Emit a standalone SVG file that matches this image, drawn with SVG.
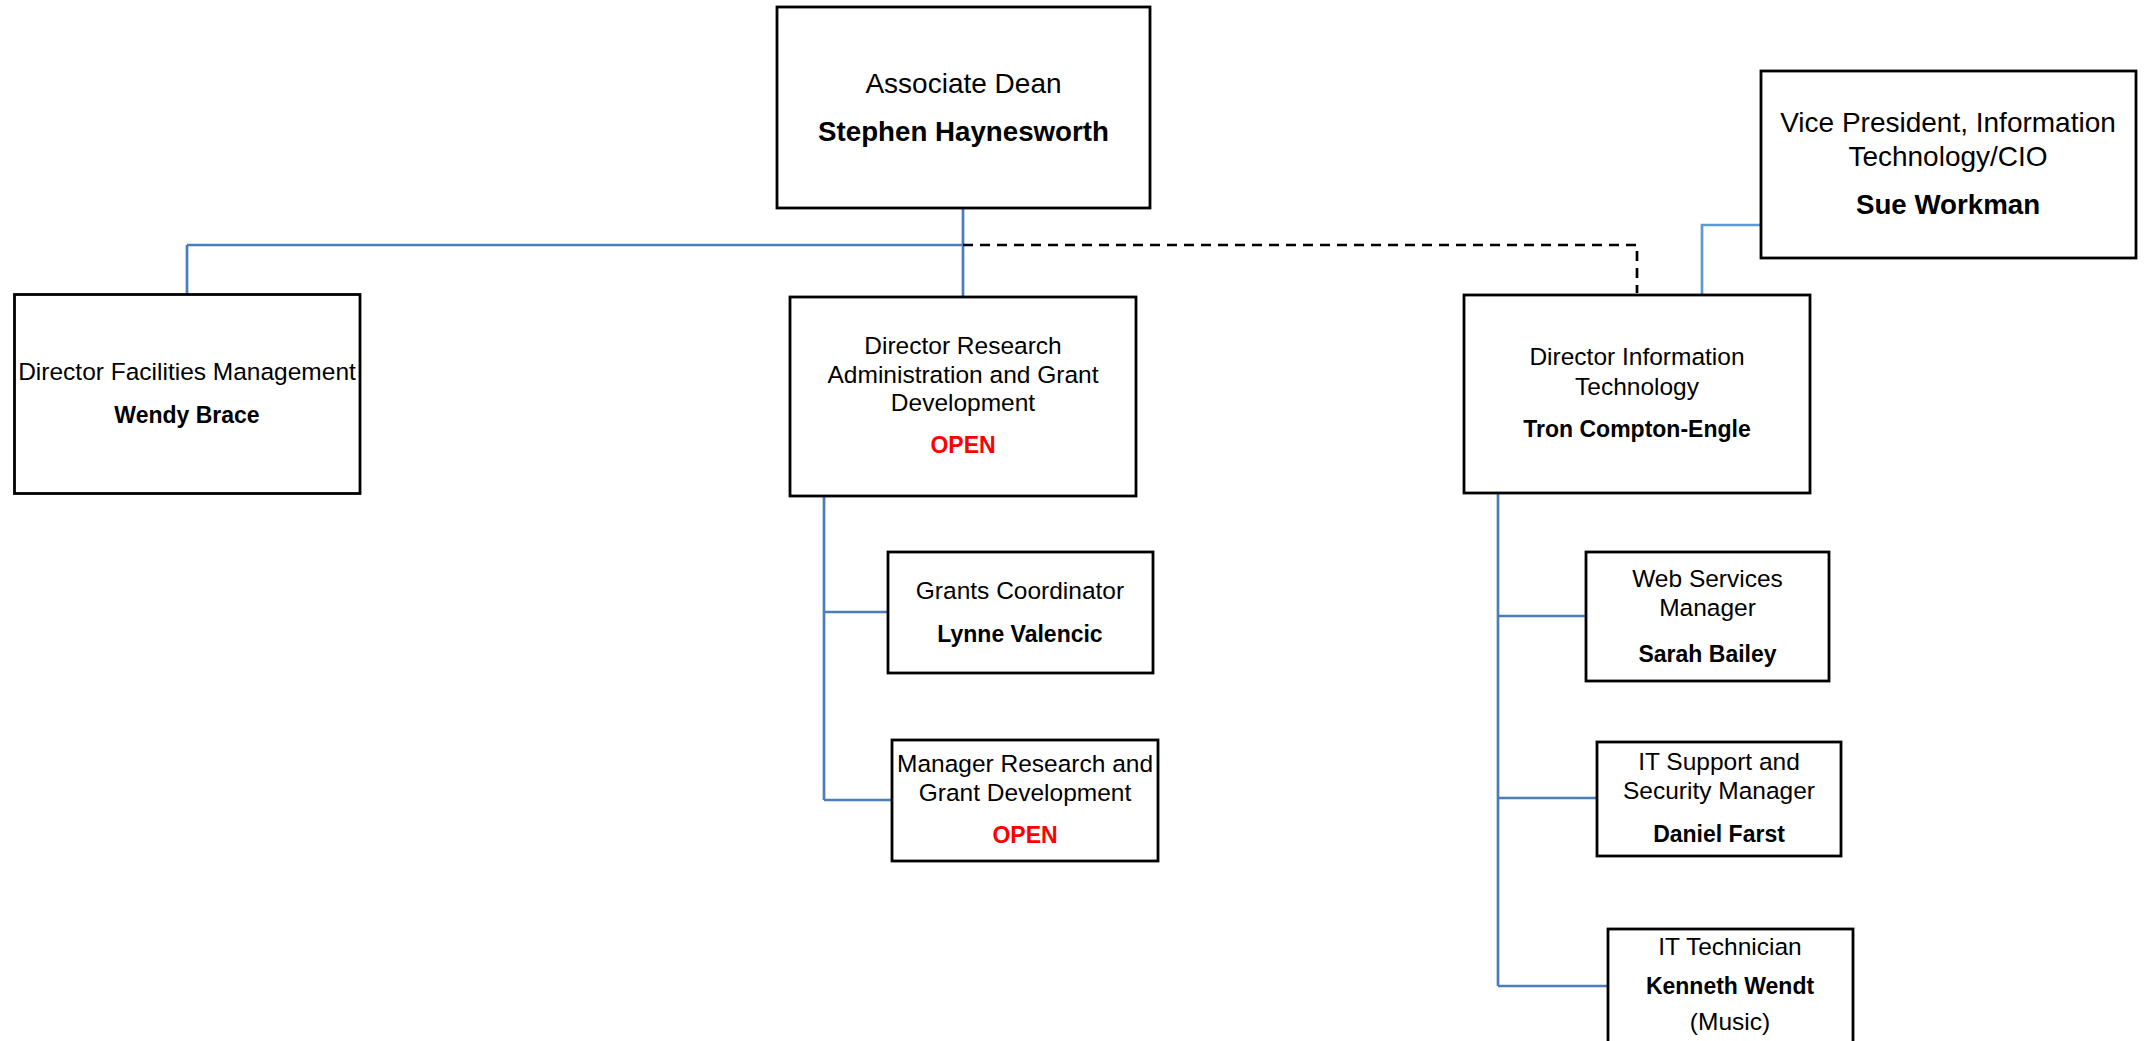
<svg xmlns="http://www.w3.org/2000/svg" width="2149" height="1041" viewBox="0 0 2149 1041">
<style>
.box{fill:#fff;stroke:#000;stroke-width:2.8}
.t{font-family:"Liberation Sans",Arial,sans-serif;font-size:24.5px;fill:#000;text-anchor:middle}
.b{font-weight:bold;font-size:23px}
.L{font-size:28px}
.LB{font-weight:bold;font-size:27.7px}
.red{fill:#ff0000}
.c{fill:none;stroke:#4a7ebb;stroke-width:2.7}
.c2{fill:none;stroke:#5b9bd5;stroke-width:2.7}
.d{fill:none;stroke:#000;stroke-width:2.7;stroke-dasharray:10 7}
</style>
<rect width="2149" height="1041" fill="#fff"/>
<g id="connectors">
<path class="c" d="M963,208 V297 M187,245 H963 M187,245 V294"/>
<path class="d" d="M963,245 H1637 V293"/>
<path class="c2" d="M1761,225 H1702 V296"/>
<path class="c" d="M824,497 V800 M824,612 H888 M824,800 H892"/>
<path class="c" d="M1498,493 V986 M1498,616 H1586 M1498,798 H1597 M1498,986 H1608"/>
</g>
<g id="assoc-dean">
<rect class="box" x="777" y="7" width="373" height="201"/>
<text class="t L" x="963.5" y="93">Associate Dean</text>
<text class="t LB" x="963.5" y="141">Stephen Haynesworth</text>
</g>
<g id="vp-it">
<rect class="box" x="1761" y="71" width="375" height="187"/>
<text class="t L" x="1948" y="132">Vice President, Information</text>
<text class="t L" x="1948" y="166">Technology/CIO</text>
<text class="t LB" x="1948" y="214">Sue Workman</text>
</g>
<g id="dir-facilities">
<rect class="box" x="14.5" y="294.5" width="345.5" height="199"/>
<text class="t" x="187" y="380">Director Facilities Management</text>
<text class="t b" x="187" y="423">Wendy Brace</text>
</g>
<g id="dir-research">
<rect class="box" x="790" y="297" width="346" height="199"/>
<text class="t" x="963" y="354">Director Research</text>
<text class="t" x="963" y="383">Administration and Grant</text>
<text class="t" x="963" y="411">Development</text>
<text class="t b red" x="963" y="453">OPEN</text>
</g>
<g id="dir-it">
<rect class="box" x="1464" y="295" width="346" height="198"/>
<text class="t" x="1637" y="365">Director Information</text>
<text class="t" x="1637" y="395">Technology</text>
<text class="t b" x="1637" y="437">Tron Compton-Engle</text>
</g>
<g id="grants-coord">
<rect class="box" x="888" y="552" width="265" height="121"/>
<text class="t" x="1020" y="599">Grants Coordinator</text>
<text class="t b" x="1020" y="642">Lynne Valencic</text>
</g>
<g id="mgr-research">
<rect class="box" x="892" y="740" width="266" height="121"/>
<text class="t" x="1025" y="772">Manager Research and</text>
<text class="t" x="1025" y="801">Grant Development</text>
<text class="t b red" x="1025" y="843">OPEN</text>
</g>
<g id="web-services">
<rect class="box" x="1586" y="552" width="243" height="129"/>
<text class="t" x="1707.5" y="587">Web Services</text>
<text class="t" x="1707.5" y="616">Manager</text>
<text class="t b" x="1707.5" y="662">Sarah Bailey</text>
</g>
<g id="it-support">
<rect class="box" x="1597" y="742" width="244" height="114"/>
<text class="t" x="1719" y="770">IT Support and</text>
<text class="t" x="1719" y="799">Security Manager</text>
<text class="t b" x="1719" y="842">Daniel Farst</text>
</g>
<g id="it-tech">
<rect class="box" x="1608" y="929" width="245" height="130"/>
<text class="t" x="1730" y="955">IT Technician</text>
<text class="t b" x="1730" y="994">Kenneth Wendt</text>
<text class="t" x="1730" y="1030">(Music)</text>
</g>
</svg>
